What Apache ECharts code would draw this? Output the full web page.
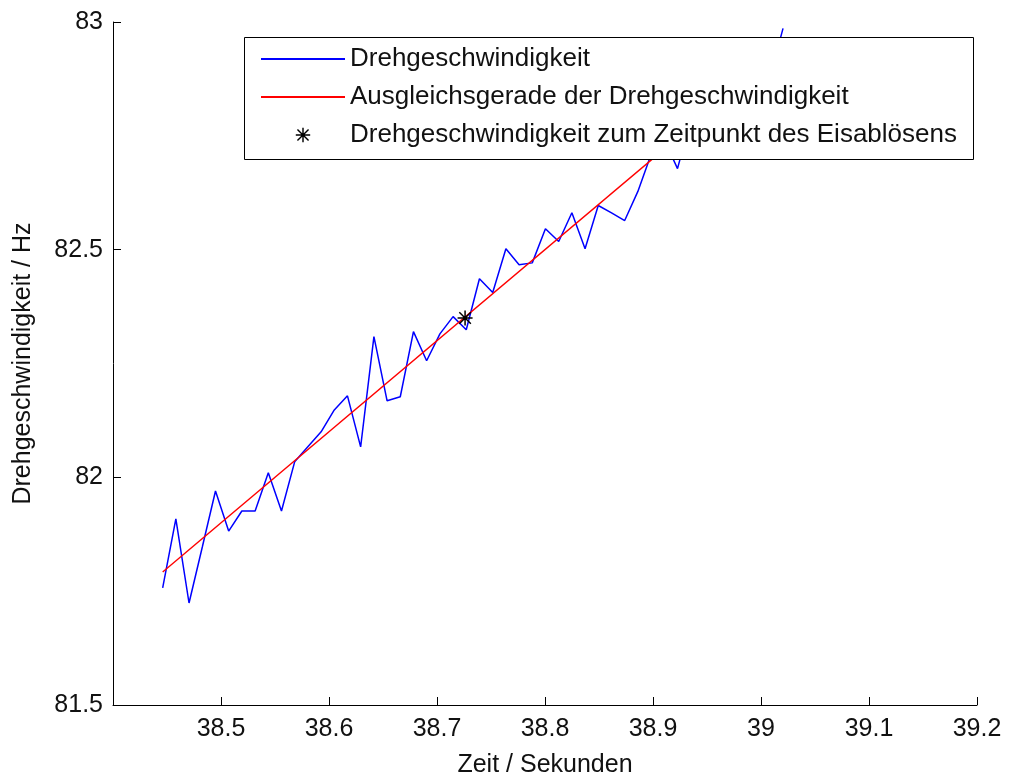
<!DOCTYPE html>
<html>
<head>
<meta charset="utf-8">
<title>Drehgeschwindigkeit</title>
<script src="https://cdn.jsdelivr.net/npm/echarts/dist/echarts.min.js"></script>
<style>
    html, body { margin: 0; padding: 0; background: #fff; }
    #main { width: 1016px; height: 781px; }
</style>
</head>
<body>
<div id="main"></div>
<script>
    // Zeitpunkte der Messwerte (s)
    var zeit = [38.4460, 38.4582, 38.4704, 38.4827, 38.4949, 38.5071, 38.5193, 38.5316,
                38.5438, 38.5560, 38.5682, 38.5804, 38.5927, 38.6049, 38.6171, 38.6293,
                38.6416, 38.6538, 38.6660, 38.6782, 38.6904, 38.7027, 38.7149, 38.7271,
                38.7393, 38.7516, 38.7638, 38.7760, 38.7882, 38.8004, 38.8127, 38.8249,
                38.8371, 38.8493, 38.8616, 38.8738, 38.8860, 38.8982, 38.9104, 38.9227,
                38.9349, 38.9471, 38.9593, 38.9716, 38.9838, 38.9960, 39.0082, 39.0204];
    // Drehgeschwindigkeit (Hz)
    var drehzahl = [81.757, 81.909, 81.724, 81.847, 81.970, 81.882, 81.926, 81.926,
                    82.010, 81.926, 82.034, 82.067, 82.100, 82.148, 82.179, 82.067,
                    82.309, 82.168, 82.177, 82.320, 82.256, 82.315, 82.353, 82.324,
                    82.436, 82.406, 82.502, 82.467, 82.471, 82.546, 82.518, 82.581,
                    82.502, 82.597, 82.581, 82.564, 82.628, 82.709, 82.742, 82.678,
                    82.786, 82.803, 82.808, 82.863, 82.841, 82.896, 82.878, 82.986];
    // Ausgleichsgerade: Anfangs- und Endpunkt
    var geradeZeit = [38.4460, 39.0204];
    var geradeWert = [81.792, 82.941];
    // Zeitpunkt des Eisabloesens
    var eisZeit = 38.726;
    var eisWert = 82.35;

    var namen = ['Drehgeschwindigkeit', 'Ausgleichsgerade der Drehgeschwindigkeit',
                 'Drehgeschwindigkeit zum Zeitpunkt des Eisablösens'];

    // Sternchen wie der MATLAB-Marker '*'
    var stern = 'path://M0,4.5 L10,4.5 L10,5.5 L0,5.5 Z M4.5,0 L5.5,0 L5.5,10 L4.5,10 Z ' +
                'M1.5,0.8 L9.2,8.5 L8.5,9.2 L0.8,1.5 Z M8.5,0.8 L9.2,1.5 L1.5,9.2 L0.8,8.5 Z';

    var font = 'Liberation Sans, Arial, sans-serif';

    var kurve = zeit.map(function (t, i) { return [t, drehzahl[i]]; });
    var gerade = geradeZeit.map(function (t, i) { return [t, geradeWert[i]]; });

    var myChart = echarts.init(document.getElementById('main'), null, { renderer: 'canvas' });
    var option = {
        animation: false,
        backgroundColor: '#fff',
        textStyle: { fontFamily: font },
        grid: { left: 113, right: 39, top: 22, bottom: 76, outerBoundsMode: 'none' },
        graphic: [{
            type: 'rect',
            left: 244, top: 37,
            shape: { width: 729, height: 122 },
            style: { fill: '#fff', stroke: '#000', lineWidth: 1 },
            z: 3
        }],
        legend: {
            orient: 'vertical',
            left: 260, top: 46,
            padding: 0,
            itemWidth: 84, itemHeight: 18, itemGap: 12,
            textStyle: { fontFamily: font, fontSize: 26, color: '#111', lineHeight: 26 },
            data: [
                { name: namen[0], itemStyle: { opacity: 0 } },
                { name: namen[1], itemStyle: { opacity: 0 } },
                { name: namen[2], lineStyle: { opacity: 0 } }
            ],
            z: 4
        },
        xAxis: {
            type: 'value',
            min: 38.4, max: 39.2, interval: 0.1,
            name: 'Zeit / Sekunden',
            nameLocation: 'middle', nameGap: 48,
            nameTextStyle: { fontFamily: font, fontSize: 25, color: '#111' },
            axisLine: { lineStyle: { color: '#000', width: 1 } },
            axisTick: { inside: true, length: 8, lineStyle: { color: '#000' } },
            axisLabel: { fontFamily: font, fontSize: 25, color: '#111', margin: 12, showMinLabel: false },
            splitLine: { show: false }
        },
        yAxis: {
            type: 'value',
            min: 81.5, max: 83, interval: 0.5,
            name: 'Drehgeschwindigkeit / Hz',
            nameLocation: 'middle', nameGap: 77,
            nameTextStyle: { fontFamily: font, fontSize: 25, color: '#111' },
            axisLine: { show: true, lineStyle: { color: '#000', width: 1 } },
            axisTick: { show: true, inside: true, length: 8, lineStyle: { color: '#000' } },
            axisLabel: { fontFamily: font, fontSize: 25, color: '#111', margin: 10 },
            splitLine: { show: false }
        },
        series: [
            {
                name: namen[0],
                type: 'line',
                data: kurve,
                symbol: 'none',
                lineStyle: { color: '#0000ff', width: 1.5 },
                itemStyle: { color: '#0000ff' },
                z: 2
            },
            {
                name: namen[1],
                type: 'line',
                data: gerade,
                symbol: 'none',
                lineStyle: { color: '#ff0000', width: 1.4 },
                itemStyle: { color: '#ff0000' },
                z: 2
            },
            {
                name: namen[2],
                type: 'line',
                data: [[eisZeit, eisWert]],
                symbol: stern,
                symbolSize: 15,
                lineStyle: { opacity: 0 },
                itemStyle: { color: '#000' },
                z: 2.5
            }
        ]
    };
    option && myChart.setOption(option);
</script>
</body>
</html>
